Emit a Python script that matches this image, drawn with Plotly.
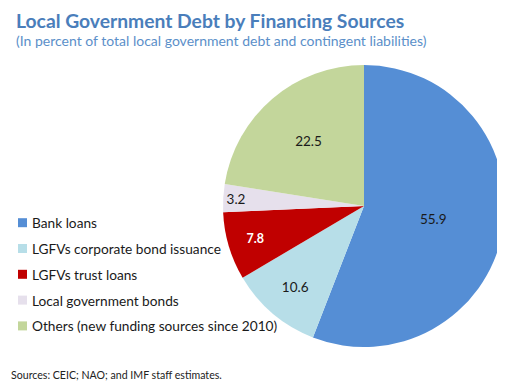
import plotly.graph_objects as go

labels = ["Bank loans", "LGFVs corporate bond issuance", "LGFVs trust loans",
          "Local government bonds", "Others (new funding sources since 2010)"]
values = [55.9, 10.6, 7.8, 3.2, 22.5]
colors = ["#558ED5", "#B7DEE8", "#C00000", "#E6E0EC", "#C3D69B"]
text_colors = ["#1a1a1a", "#1a1a1a", "#ffffff", "#1a1a1a", "#1a1a1a"]
text_sizes = [13.5, 13.5, 12.5, 13.5, 13.5]
templates = ["%{value:.1f}", "%{value:.1f}", "<b>%{value:.1f}</b>", "%{value:.1f}", "%{value:.1f}"]

# page body has an 8px default margin; work in window pixels and shift
OFF = 8
W, H = 505 - OFF, 386 - OFF
FONT = "Lato"


def px(x):
    return (x - OFF) / W


def py(y):
    return 1 - (y - OFF) / H


fig = go.Figure(go.Pie(
    labels=labels, values=values, sort=False, direction="clockwise", rotation=0,
    marker=dict(colors=colors, line=dict(color="white", width=0)),
    texttemplate=templates, textposition="inside", insidetextorientation="horizontal",
    textfont=dict(family=FONT, size=text_sizes, color=text_colors),
    showlegend=False, hoverinfo="label+value",
    domain=dict(x=[px(223), 1.0], y=[py(347), py(65)]),
))

# title and subtitle
fig.add_annotation(text="<b>Local Government Debt by Financing Sources</b>",
                   x=px(14), y=py(20), xref="paper", yref="paper",
                   xanchor="left", yanchor="middle", showarrow=False,
                   font=dict(family=FONT, size=19.3, color="#4A7EBB"))
fig.add_annotation(text="(In percent of total local government debt and contingent liabilities)",
                   x=px(14), y=py(40), xref="paper", yref="paper",
                   xanchor="left", yanchor="middle", showarrow=False,
                   font=dict(family=FONT, size=14, color="#5B8FC9"))
fig.add_annotation(text="Sources: CEIC; NAO; and IMF staff estimates.",
                   x=px(9), y=py(375), xref="paper", yref="paper",
                   xanchor="left", yanchor="middle", showarrow=False,
                   font=dict(family=FONT, size=10.6, color="#222222"))

# manual legend
for i, (lab, col) in enumerate(zip(labels, colors)):
    yc = 222.7 + i * 25.8
    fig.add_shape(type="rect", xref="paper", yref="paper",
                  x0=px(18), x1=px(27), y0=py(yc + 4.5), y1=py(yc - 4.5),
                  fillcolor=col, line=dict(width=0))
    fig.add_annotation(text=lab, x=px(30), y=py(yc), xref="paper", yref="paper",
                       xanchor="left", yanchor="middle", showarrow=False,
                       font=dict(family=FONT, size=13.7, color="#1a1a1a"))

fig.update_layout(width=W, height=H, margin=dict(l=0, r=0, t=0, b=0),
                  paper_bgcolor="white", plot_bgcolor="white")
fig.write_html("out.html")
